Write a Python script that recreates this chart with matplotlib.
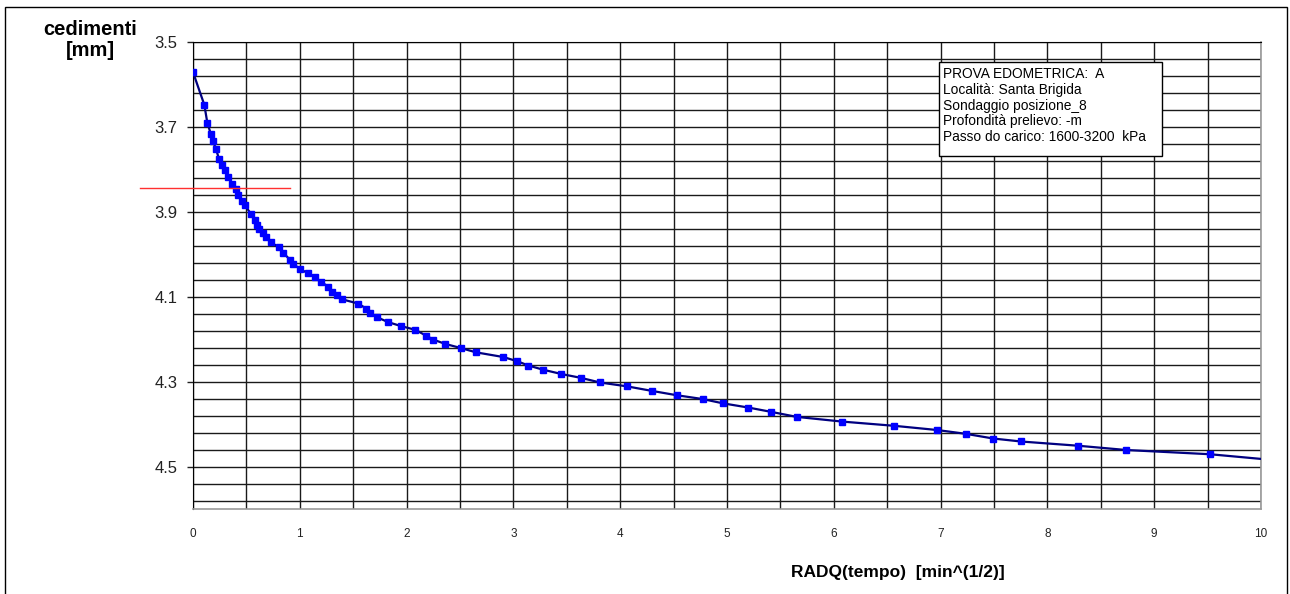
import matplotlib
matplotlib.use('Agg')
import matplotlib.pyplot as plt
from matplotlib.patches import Rectangle
import numpy as np

# sqrt(time) [min^(1/2)] and settlement [mm]
radq_tempo = [0.0, 0.106, 0.134, 0.166, 0.187, 0.215, 0.243, 0.274, 0.302, 0.331,
              0.365, 0.398, 0.424, 0.459, 0.487, 0.540, 0.576, 0.600, 0.621, 0.655,
              0.684, 0.730, 0.808, 0.843, 0.908, 0.941, 0.998, 1.074, 1.145, 1.196,
              1.267, 1.304, 1.348, 1.395, 1.545, 1.623, 1.660, 1.720, 1.829, 1.946,
              2.082, 2.185, 2.250, 2.360, 2.509, 2.650, 2.905, 3.037, 3.140, 3.280,
              3.449, 3.630, 3.811, 4.061, 4.301, 4.529, 4.772, 4.960, 5.199, 5.409,
              5.653, 6.074, 6.564, 6.969, 7.238, 7.493, 7.753, 8.289, 8.736, 9.522,
              10.954]
cedimenti = [3.571, 3.648, 3.690, 3.716, 3.733, 3.752, 3.775, 3.789, 3.802, 3.818,
             3.835, 3.846, 3.860, 3.874, 3.885, 3.904, 3.919, 3.931, 3.941, 3.951,
             3.960, 3.972, 3.984, 3.996, 4.013, 4.022, 4.035, 4.044, 4.054, 4.065,
             4.076, 4.088, 4.097, 4.106, 4.116, 4.128, 4.138, 4.148, 4.160, 4.169,
             4.178, 4.192, 4.201, 4.211, 4.221, 4.231, 4.242, 4.252, 4.262, 4.272,
             4.282, 4.291, 4.302, 4.311, 4.322, 4.332, 4.341, 4.351, 4.361, 4.371,
             4.383, 4.394, 4.404, 4.414, 4.423, 4.434, 4.441, 4.451, 4.461, 4.471,
             4.504]

# red reference line (d0 / d50 marker)
red_x = [-0.50, 0.91]
red_y = [3.844, 3.844]

info_lines = ['PROVA EDOMETRICA:  A',
              'Località: Santa Brigida',
              'Sondaggio posizione_8',
              'Profondità prelievo: -m',
              'Passo do carico: 1600-3200  kPa']

y_labels = [3.5, 3.7, 3.9, 4.1, 4.3, 4.5]
x_labels = list(range(0, 11))

plt.rcParams['font.family'] = ['Liberation Sans', 'DejaVu Sans']

W, H = 1290, 594
fig = plt.figure(figsize=(W / 100, H / 100), dpi=100)
ax = fig.add_axes([193 / W, 1 - 509 / H, (1261 - 193) / W, (509 - 42) / H])

# grid: every 0.5 in x, every 0.04 in y
ax.set_xlim(0, 10)
ax.set_ylim(4.6, 3.5)
ax.set_xticks(x_labels)
ax.set_xticks(np.arange(0, 10.01, 0.5), minor=True)
ax.set_yticks(y_labels)
ax.set_yticks(np.arange(3.5, 4.59, 0.04), minor=True)
ax.set_yticklabels(['%.1f' % v for v in y_labels])
ax.grid(True, which='both', color='#1a1a1a', linewidth=1.0)
ax.set_axisbelow(True)
ax.tick_params(axis='y', which='major', length=4, width=1, direction='out',
               labelsize=12, colors='#222222', pad=7)
ax.tick_params(axis='y', which='minor', length=0)
ax.tick_params(axis='x', which='both', length=0, labelsize=8.5,
               colors='#222222', pad=14)

for side in ['left', 'top']:
    ax.spines[side].set_color('black')
for side in ['right', 'bottom']:
    ax.spines[side].set_color('#999999')
    ax.spines[side].set_linewidth(1.2)

ax.plot(radq_tempo, cedimenti, color='#000080', linewidth=1.6,
        marker='s', markersize=4.8, markerfacecolor='#0000FF',
        markeredgecolor='#0000FF', zorder=3)
ax.plot(red_x, red_y, color='#FF3030', linewidth=1.0, clip_on=False, zorder=4)

# axis titles
fig.text(90 / W, 1 - 40 / H, 'cedimenti\n[mm]', ha='center', va='center',
         fontsize=14.5, fontweight='bold', linespacing=1.15)
fig.text(898 / W, 1 - 573 / H, 'RADQ(tempo)  [min^(1/2)]', ha='center', va='center',
         fontsize=12.5, fontweight='bold')

# info box
fig.patches.append(Rectangle((939 / W, 1 - 156 / H), (1162 - 939) / W, (156 - 62) / H,
                             transform=fig.transFigure, facecolor='white',
                             edgecolor='black', linewidth=1.0, zorder=5))
for i, line in enumerate(info_lines):
    fig.text(943 / W, 1 - (74 + i * 15.8) / H, line, ha='left', va='center',
             fontsize=9.9, zorder=6)

# outer frame
fig.patches.append(Rectangle((5 / W, -0.1), (1287 - 5) / W, (H - 7) / H + 0.1,
                             transform=fig.transFigure, fill=False,
                             edgecolor='black', linewidth=1.0, zorder=1))

fig.savefig('out.png', dpi=100)
